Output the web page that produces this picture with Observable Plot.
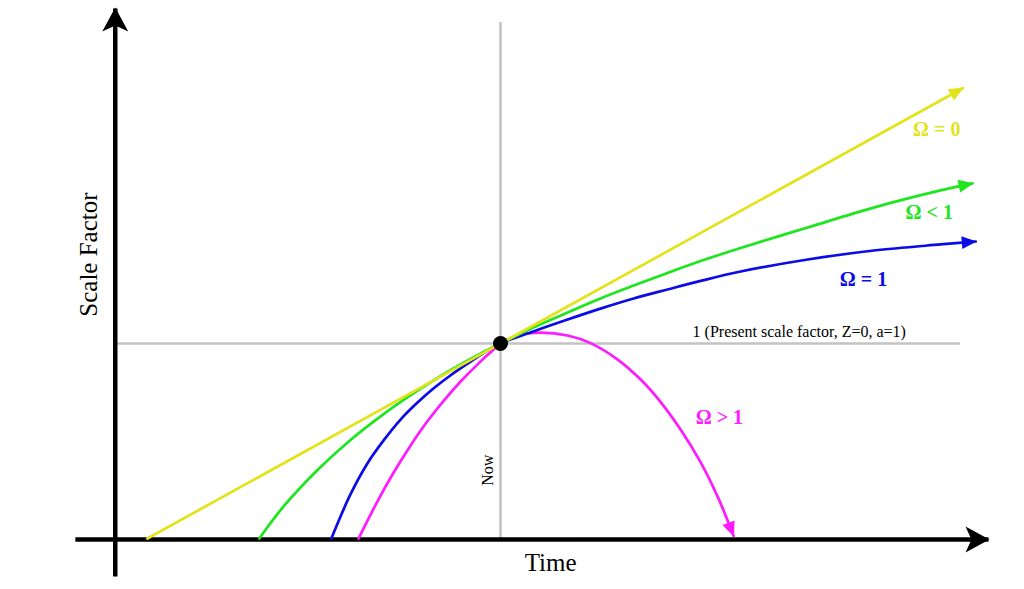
<!DOCTYPE html>
<html><head><meta charset="utf-8">
<script src="https://cdn.jsdelivr.net/npm/d3@7"></script>
<script src="https://cdn.jsdelivr.net/npm/@observablehq/plot@0.6"></script>
<style>
  html, body { margin: 0; padding: 0; background: #fff; }
  #chart svg { display: block; }
</style>
</head><body><div id="chart"></div>
<script>
// Time in Hubble times relative to now (t = 0); scale factor a (a = 1 now).
const omega0Time  = [-1.0, 1.31];
const omega0Scale = [0, 2.31];

const omegaLt1Time  = [-0.683, -0.615, -0.518, -0.425, -0.331, -0.235, -0.142, -0.048, 0, 0.093, 0.190, 0.283, 0.377, 0.473, 0.567, 0.680, 0.870, 1.057, 1.246, 1.337];
const omegaLt1Scale = [0, 0.163, 0.351, 0.505, 0.638, 0.758, 0.863, 0.957, 1, 1.082, 1.159, 1.231, 1.297, 1.362, 1.423, 1.490, 1.595, 1.697, 1.785, 1.821];

const omega1Time  = [-0.479, -0.425, -0.377, -0.331, -0.283, -0.235, -0.190, -0.142, -0.093, -0.048, 0, 0.093, 0.190, 0.283, 0.377, 0.473, 0.567, 0.680, 0.870, 1.057, 1.246, 1.346];
const omega1Scale = [0, 0.226, 0.385, 0.503, 0.610, 0.697, 0.769, 0.836, 0.897, 0.951, 1, 1.062, 1.123, 1.179, 1.231, 1.277, 1.321, 1.369, 1.431, 1.477, 1.508, 1.523];

const omegaGt1Time  = [-0.402, -0.348, -0.303, -0.255, -0.207, -0.161, -0.113, -0.065, -0.028, 0, 0.020, 0.057, 0.113, 0.190, 0.255, 0.331, 0.397, 0.453, 0.510, 0.567, 0.615, 0.660];
const omegaGt1Scale = [0, 0.192, 0.337, 0.476, 0.601, 0.706, 0.805, 0.893, 0.955, 1, 1.021, 1.046, 1.056, 1.041, 1.002, 0.919, 0.815, 0.701, 0.559, 0.390, 0.215, 0.014];

const seriesNames  = ["Ω = 0", "Ω < 1", "Ω = 1", "Ω > 1"];
const seriesColors = ["#e3e31c", "#1ee61e", "#0b0be6", "#ff1aff"];

const nowTime = 0;
const presentScale = 1;
const presentLabel = "1 (Present scale factor, Z=0, a=1)";
const nowLabel = "Now";
const xLabel = "Time";
const yLabel = "Scale Factor";

// ---------- build tables ----------
const seriesTimes  = [omega0Time, omegaLt1Time, omega1Time, omegaGt1Time];
const seriesScales = [omega0Scale, omegaLt1Scale, omega1Scale, omegaGt1Scale];
const series = seriesNames.map((name, k) => ({
  name, color: seriesColors[k],
  points: seriesTimes[k].map((t, i) => ({t, a: seriesScales[k][i]}))
}));

// label anchors: point index on each curve + pixel offset (style)
const labelAnchor = [
  {idx: -1, dx: -50, dy: 42},
  {idx: -1, dx: -67, dy: 29},
  {idx: -1, dx: -136, dy: 38},
  {idx: 16, dx: 55, dy: 38}
];
const labelRows = series.map((s, k) => {
  const L = labelAnchor[k];
  const p = L.idx < 0 ? s.points[s.points.length + L.idx] : s.points[L.idx];
  return {t: p.t, a: p.a, name: s.name, color: s.color, dx: L.dx, dy: L.dy};
});

const font = "'Liberation Serif', 'Times New Roman', serif";

// frame extents (axis lines / guide lines)
const axisT = -1.091, axisTEnd = 1.382, axisTStart = -1.204;
const axisABottom = -0.195, axisATop = 2.718;
const guideTEnd = 1.303, guideTStart = -1.085, guideATop = 2.646;

const order = [3, 2, 1, 0];

const svg = Plot.plot({
  width: 1024,
  height: 589,
  margin: 0,
  style: {fontFamily: font, background: "#fff", overflow: "visible"},
  x: {domain: [-1.416, 1.484], axis: null},
  y: {domain: [-0.2615, 2.759], axis: null},
  marks: [
    // guide lines
    Plot.ruleY([presentScale], {x1: guideTStart, x2: guideTEnd, stroke: "#c3c3c3", strokeWidth: 2.5}),
    Plot.ruleX([nowTime], {y1: 0, y2: guideATop, stroke: "#c3c3c3", strokeWidth: 2.5}),
    // axes (x then y)
    Plot.link([0], {x1: axisTStart, y1: -0.005, x2: axisTEnd, y2: -0.005, stroke: "#000", strokeWidth: 4.5}),
    Plot.link([0], {x1: axisT, y1: axisABottom, x2: axisT, y2: axisATop, stroke: "#000", strokeWidth: 4.5}),
    // curves
    ...order.map(k => Plot.line(series[k].points, {
      x: "t", y: "a", stroke: series[k].color, strokeWidth: 2.7, curve: "catmull-rom"
    })),
    // present point
    Plot.dot([{t: nowTime, a: presentScale}], {x: "t", y: "a", r: 7.5, fill: "#000"}),
    // curve labels
    ...labelRows.map(r => Plot.text([r], {
      x: "t", y: "a", text: "name", fill: r.color, dx: r.dx, dy: r.dy,
      textAnchor: "start", fontSize: 20, fontWeight: "bold"
    })),
    // present label
    Plot.text([presentLabel], {x: 0.544, y: presentScale, text: d => d, dy: -12, textAnchor: "start", fontSize: 16, fill: "#000"}),
    // Now label
    Plot.text([nowLabel], {x: nowTime, y: 0.35, text: d => d, rotate: -90, dx: -13, fontSize: 16, fill: "#000"}),
    // axis titles
    Plot.text([xLabel], {x: 0.142, y: 0, text: d => d, dy: 24, fontSize: 25, fill: "#000"}),
    Plot.text([yLabel], {x: axisT, y: 1.456, text: d => d, rotate: -90, dx: -26, fontSize: 25, fill: "#000"})
  ]
});

// ---------- filled arrowheads ----------
const root = d3.select(svg);
const defs = root.insert("defs", ":first-child");
function addMarker(id, color, d) {
  defs.append("marker")
    .attr("id", id)
    .attr("markerUnits", "userSpaceOnUse")
    .attr("viewBox", "-30 -16 32 32")
    .attr("markerWidth", 32).attr("markerHeight", 32)
    .attr("refX", 0).attr("refY", 0)
    .attr("orient", "auto")
    .append("path").attr("d", d).attr("fill", color).attr("stroke", "none");
}
addMarker("arrow-axis", "#000", "M1,0 L-23,-13 L-17,0 L-23,13 Z");
root.selectAll('g[aria-label="link"] path').attr("marker-end", "url(#arrow-axis)");
series.forEach((s, k) => addMarker("arrow-" + k, s.color, "M1,0 L-14,-6.5 L-14,6.5 Z"));
root.selectAll('g[aria-label="line"]').each(function(_, i) {
  d3.select(this).selectAll("path").attr("marker-end", "url(#arrow-" + order[i] + ")");
});

document.getElementById("chart").appendChild(svg);
</script>
</body></html>
